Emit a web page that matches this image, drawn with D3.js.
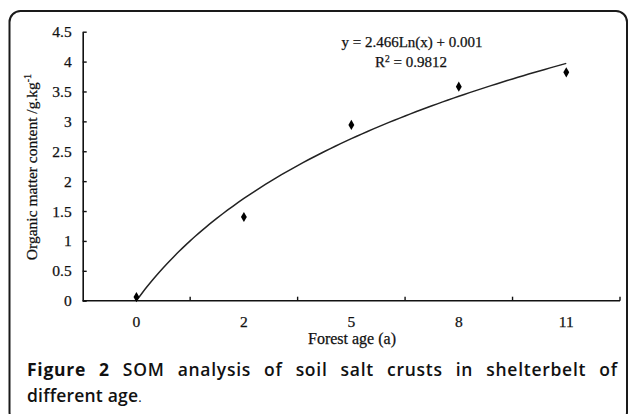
<!DOCTYPE html>
<html>
<head>
<meta charset="utf-8">
<script src="https://cdn.jsdelivr.net/npm/d3@7/dist/d3.min.js"></script>
<style>
  html, body { margin: 0; padding: 0; background: #fff; }
  svg { display: block; }
</style>
</head>
<body>
<svg id="chart" width="629" height="414"></svg>
<script>
// ---- data ----
const categories = ["0", "2", "5", "8", "11"];
const values = [0.06, 1.40, 2.94, 3.58, 3.82];
const yTicks = [0, 0.5, 1, 1.5, 2, 2.5, 3, 3.5, 4, 4.5];
const trendCoefA = 2.466;   // y = a*Ln(x) + b  (from chart label)
const trendCoefB = 0.001;
const equationText = "y = 2.466Ln(x) + 0.001";
const r2Value = "0.9812";
const xTitle = "Forest age (a)";
const yTitle = "Organic matter content /g.kg";
const captionBold = "Figure 2";
const captionLine1 = "SOM analysis of soil salt crusts in shelterbelt of";
const captionLine2 = "different age";

// ---- layout ----
const svg = d3.select("#chart");
const serif = "'Liberation Serif', 'Times New Roman', serif";
const plot = { left: 82.7, right: 620, top: 31.7, bottom: 300.7 };

// outer rounded frame
svg.append("rect")
  .attr("x", 9.5).attr("y", 11).attr("width", 617.5).attr("height", 412)
  .attr("rx", 11).attr("ry", 11)
  .attr("fill", "none").attr("stroke", "#1a1a1a").attr("stroke-width", 2);

const x = d3.scaleBand().domain(categories).range([plot.left, plot.right]).padding(0);
const y = d3.scaleLinear().domain([0, 4.5]).range([plot.bottom, plot.top]);

// Y axis (ticks inside)
const yAxis = svg.append("g")
  .attr("transform", `translate(${plot.left},0)`)
  .call(d3.axisRight(y).tickValues(yTicks).tickSize(4).tickSizeOuter(0).tickFormat(d => d));
yAxis.attr("font-size", null).attr("font-family", null);
yAxis.select(".domain").attr("stroke", "#111").attr("stroke-width", 1.6);
yAxis.selectAll(".tick line").attr("stroke", "#111").attr("stroke-width", 1.4);
yAxis.selectAll(".tick text")
  .attr("x", -11).attr("text-anchor", "end")
  .attr("font-family", serif).attr("font-size", 15.5).attr("fill", "#111")
  .attr("stroke", "#111").attr("stroke-width", 0.25);

// X axis (category, ticks between categories, pointing up)
const xAxisG = svg.append("g").attr("transform", `translate(0,${plot.bottom})`);
xAxisG.append("line")
  .attr("x1", plot.left).attr("x2", plot.right)
  .attr("stroke", "#111").attr("stroke-width", 1.6);
xAxisG.selectAll("line.tk")
  .data(categories)
  .join("line").attr("class", "tk")
  .attr("x1", d => x(d) + x.bandwidth()).attr("x2", d => x(d) + x.bandwidth())
  .attr("y1", 0).attr("y2", -4)
  .attr("stroke", "#111").attr("stroke-width", 1.4);
xAxisG.selectAll("text.lbl")
  .data(categories)
  .join("text").attr("class", "lbl")
  .attr("x", d => x(d) + x.bandwidth() / 2)
  .attr("y", 26.5)
  .attr("text-anchor", "middle")
  .attr("font-family", serif).attr("font-size", 15.5).attr("fill", "#111")
  .attr("stroke", "#111").attr("stroke-width", 0.25)
  .text(d => d);

// axis titles
svg.append("text")
  .attr("x", 352).attr("y", 343.5)
  .attr("text-anchor", "middle")
  .attr("font-family", serif).attr("font-size", 16).attr("fill", "#111")
  .attr("stroke", "#111").attr("stroke-width", 0.25)
  .text(xTitle);

const yt = svg.append("text")
  .attr("transform", "translate(37,167) rotate(-90)")
  .attr("text-anchor", "middle")
  .attr("font-family", serif).attr("font-size", 15.5).attr("fill", "#111")
  .attr("stroke", "#111").attr("stroke-width", 0.25);
yt.append("tspan").text(yTitle);
yt.append("tspan").attr("dy", -6).attr("font-size", 10).text("-1");

// trendline
const xi = d3.scaleLinear().domain([1, categories.length])
  .range([x(categories[0]) + x.bandwidth() / 2, x(categories[categories.length - 1]) + x.bandwidth() / 2]);
const samples = d3.range(1, categories.length + 0.0001, 0.05);
const line = d3.line()
  .x(t => xi(t))
  .y(t => y(trendCoefA * Math.log(t) + trendCoefB))
  .curve(d3.curveMonotoneX);
svg.append("path")
  .datum(samples)
  .attr("d", line)
  .attr("fill", "none").attr("stroke", "#222").attr("stroke-width", 1.5);

// data markers
svg.selectAll("path.pt")
  .data(values)
  .join("path").attr("class", "pt")
  .attr("transform", (d, i) => `translate(${x(categories[i]) + x.bandwidth() / 2},${y(d)})`)
  .attr("d", d3.symbol().type(d3.symbolDiamond).size(30))
  .attr("fill", "#000");

// equation text
svg.append("text")
  .attr("x", 412).attr("y", 47)
  .attr("text-anchor", "middle")
  .attr("font-family", serif).attr("font-size", 15).attr("fill", "#111")
  .attr("stroke", "#111").attr("stroke-width", 0.25)
  .text(equationText);
const r2 = svg.append("text")
  .attr("x", 411).attr("y", 66.5)
  .attr("text-anchor", "middle")
  .attr("font-family", serif).attr("font-size", 15).attr("fill", "#111")
  .attr("stroke", "#111").attr("stroke-width", 0.25);
r2.append("tspan").text("R");
r2.append("tspan").attr("dy", -5).attr("font-size", 9.5).text("2");
r2.append("tspan").attr("dy", 5).text(" = " + r2Value);

// caption
const sans = "'Open Sans', 'Noto Sans', sans-serif";
const cap1 = svg.append("text")
  .attr("x", 27).attr("y", 375.5)
  .attr("font-family", sans).attr("font-size", 17.5).attr("fill", "#111");
cap1.append("tspan").attr("font-weight", "bold").text(captionBold + " ");
cap1.append("tspan").attr("font-weight", "600").text(captionLine1);
// justify line 1 to the right margin
const target = 617 - 27;
const full1 = captionBold + " " + captionLine1;
const nSpaces = full1.split(" ").length - 1;
const nChars = full1.length - 1;
const w0 = cap1.node().getComputedTextLength();
const extra = Math.max(0, target - w0);
cap1.attr("letter-spacing", (extra * 0.35) / nChars)
    .attr("word-spacing", (extra * 0.65) / nSpaces);

const cap2 = svg.append("text")
  .attr("x", 27).attr("y", 401.5)
  .attr("font-family", sans).attr("font-size", 17.5).attr("fill", "#111")
  .attr("letter-spacing", 0.2);
cap2.append("tspan").attr("font-weight", "600").text(captionLine2);
cap2.append("tspan").attr("font-weight", "normal").attr("font-size", 13).text(".");
</script>
</body>
</html>
